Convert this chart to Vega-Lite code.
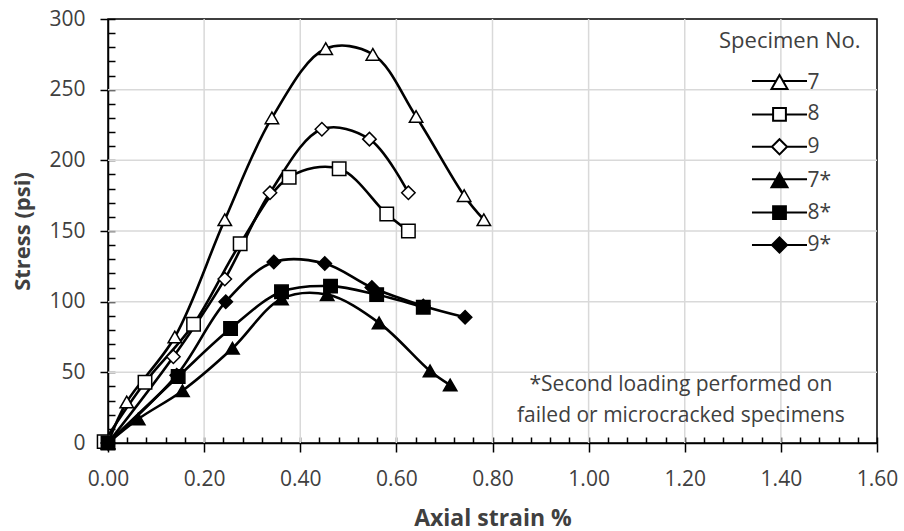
{
  "$schema": "https://vega.github.io/schema/vega-lite/v6.json",
  "width": 769,
  "height": 424,
  "autosize": {"type": "none"},
  "padding": {"left": 108, "top": 19, "right": 27, "bottom": 88},
  "background": "white",
  "config": {
    "font": "Open Sans",
    "view": {"stroke": "black", "strokeWidth": 1.5},
    "axis": {
      "labelFont": "Open Sans", "labelFontSize": 21, "labelColor": "#404040",
      "titleFont": "Open Sans", "titleFontSize": 22, "titleFontWeight": "bold", "titleColor": "#404040",
      "domainColor": "black", "domainWidth": 1.5, "tickColor": "black", "tickWidth": 1.5, "grid": false
    }
  },
  "data": {
    "values": [
      {"series": "7", "strain": 0, "stress": 0},
      {"series": "7", "strain": 0.039, "stress": 29},
      {"series": "7", "strain": 0.139, "stress": 75},
      {"series": "7", "strain": 0.243, "stress": 158},
      {"series": "7", "strain": 0.341, "stress": 230},
      {"series": "7", "strain": 0.453, "stress": 279},
      {"series": "7", "strain": 0.551, "stress": 275},
      {"series": "7", "strain": 0.641, "stress": 231},
      {"series": "7", "strain": 0.741, "stress": 175},
      {"series": "7", "strain": 0.782, "stress": 158},
      {"series": "8", "strain": -0.008, "stress": 1},
      {"series": "8", "strain": 0.077, "stress": 43},
      {"series": "8", "strain": 0.178, "stress": 84},
      {"series": "8", "strain": 0.275, "stress": 141},
      {"series": "8", "strain": 0.377, "stress": 188},
      {"series": "8", "strain": 0.481, "stress": 194},
      {"series": "8", "strain": 0.58, "stress": 162},
      {"series": "8", "strain": 0.625, "stress": 150},
      {"series": "9", "strain": 0, "stress": 0},
      {"series": "9", "strain": 0.136, "stress": 61},
      {"series": "9", "strain": 0.243, "stress": 116},
      {"series": "9", "strain": 0.337, "stress": 177},
      {"series": "9", "strain": 0.445, "stress": 222},
      {"series": "9", "strain": 0.544, "stress": 215},
      {"series": "9", "strain": 0.625, "stress": 177},
      {"series": "7*", "strain": 0, "stress": 0},
      {"series": "7*", "strain": 0.063, "stress": 17},
      {"series": "7*", "strain": 0.155, "stress": 37},
      {"series": "7*", "strain": 0.259, "stress": 67},
      {"series": "7*", "strain": 0.361, "stress": 102},
      {"series": "7*", "strain": 0.456, "stress": 105},
      {"series": "7*", "strain": 0.564, "stress": 85},
      {"series": "7*", "strain": 0.67, "stress": 51},
      {"series": "7*", "strain": 0.712, "stress": 41},
      {"series": "8*", "strain": 0, "stress": 0},
      {"series": "8*", "strain": 0.146, "stress": 47},
      {"series": "8*", "strain": 0.255, "stress": 81},
      {"series": "8*", "strain": 0.361, "stress": 107},
      {"series": "8*", "strain": 0.463, "stress": 111},
      {"series": "8*", "strain": 0.559, "stress": 105},
      {"series": "8*", "strain": 0.656, "stress": 96},
      {"series": "9*", "strain": 0, "stress": 0},
      {"series": "9*", "strain": 0.143, "stress": 48},
      {"series": "9*", "strain": 0.245, "stress": 100},
      {"series": "9*", "strain": 0.345, "stress": 128},
      {"series": "9*", "strain": 0.451, "stress": 127},
      {"series": "9*", "strain": 0.549, "stress": 110},
      {"series": "9*", "strain": 0.656, "stress": 97},
      {"series": "9*", "strain": 0.743, "stress": 89}
    ]
  },
  "layer": [
    {"data": {"values": [{}]}, "mark": {"type": "rule", "color": "#d9d9d9", "strokeWidth": 1.5}, "encoding": {"x": {"datum": 0.2, "type": "quantitative", "scale": {"domain": [0, 1.6], "nice": false, "zero": false}, "axis": null}}},
    {"data": {"values": [{}]}, "mark": {"type": "rule", "color": "#d9d9d9", "strokeWidth": 1.5}, "encoding": {"x": {"datum": 0.4, "type": "quantitative", "scale": {"domain": [0, 1.6], "nice": false, "zero": false}, "axis": null}}},
    {"data": {"values": [{}]}, "mark": {"type": "rule", "color": "#d9d9d9", "strokeWidth": 1.5}, "encoding": {"x": {"datum": 0.6, "type": "quantitative", "scale": {"domain": [0, 1.6], "nice": false, "zero": false}, "axis": null}}},
    {"data": {"values": [{}]}, "mark": {"type": "rule", "color": "#d9d9d9", "strokeWidth": 1.5}, "encoding": {"x": {"datum": 0.8, "type": "quantitative", "scale": {"domain": [0, 1.6], "nice": false, "zero": false}, "axis": null}}},
    {"data": {"values": [{}]}, "mark": {"type": "rule", "color": "#d9d9d9", "strokeWidth": 1.5}, "encoding": {"x": {"datum": 1.0, "type": "quantitative", "scale": {"domain": [0, 1.6], "nice": false, "zero": false}, "axis": null}}},
    {"data": {"values": [{}]}, "mark": {"type": "rule", "color": "#d9d9d9", "strokeWidth": 1.5}, "encoding": {"x": {"datum": 1.2, "type": "quantitative", "scale": {"domain": [0, 1.6], "nice": false, "zero": false}, "axis": null}}},
    {"data": {"values": [{}]}, "mark": {"type": "rule", "color": "#d9d9d9", "strokeWidth": 1.5}, "encoding": {"x": {"datum": 1.4, "type": "quantitative", "scale": {"domain": [0, 1.6], "nice": false, "zero": false}, "axis": null}}},
    {"data": {"values": [{}]}, "mark": {"type": "rule", "color": "#d9d9d9", "strokeWidth": 1.5}, "encoding": {"y": {"datum": 50, "type": "quantitative", "scale": {"domain": [0, 300], "nice": false}, "axis": null}}},
    {"data": {"values": [{}]}, "mark": {"type": "rule", "color": "#d9d9d9", "strokeWidth": 1.5}, "encoding": {"y": {"datum": 100, "type": "quantitative", "scale": {"domain": [0, 300], "nice": false}, "axis": null}}},
    {"data": {"values": [{}]}, "mark": {"type": "rule", "color": "#d9d9d9", "strokeWidth": 1.5}, "encoding": {"y": {"datum": 150, "type": "quantitative", "scale": {"domain": [0, 300], "nice": false}, "axis": null}}},
    {"data": {"values": [{}]}, "mark": {"type": "rule", "color": "#d9d9d9", "strokeWidth": 1.5}, "encoding": {"y": {"datum": 200, "type": "quantitative", "scale": {"domain": [0, 300], "nice": false}, "axis": null}}},
    {"data": {"values": [{}]}, "mark": {"type": "rule", "color": "#d9d9d9", "strokeWidth": 1.5}, "encoding": {"y": {"datum": 250, "type": "quantitative", "scale": {"domain": [0, 300], "nice": false}, "axis": null}}},
    {
      "data": {"values": [{"note": ["*Second loading performed on", "failed or microcracked specimens"]}]},
      "mark": {"type": "text", "font": "Open Sans", "fontSize": 21, "color": "#404040", "align": "center", "baseline": "middle", "lineHeight": 31},
      "encoding": {
        "x": {"datum": 1.192, "type": "quantitative", "scale": {"domain": [0, 1.6], "nice": false, "zero": false}, "axis": null},
        "y": {"datum": 41, "type": "quantitative", "scale": {"domain": [0, 300], "nice": false}, "axis": null},
        "text": {"field": "note"}
      }
    },
    {
      "mark": {"type": "line", "interpolate": "catmull-rom", "color": "black", "strokeWidth": 2.6},
      "encoding": {
        "x": {
          "field": "strain", "type": "quantitative",
          "scale": {"domain": [0, 1.6], "nice": false, "zero": false},
          "axis": {
            "orient": "bottom", "title": "Axial strain %", "titleFontSize": 23, "format": ".2f",
            "values": [0, 0.2, 0.4, 0.6, 0.8, 1.0, 1.2, 1.4, 1.6],
            "tickSize": 9, "labelPadding": 16, "titlePadding": 18, "grid": false,
            "labelFlush": false
          }
        },
        "y": {
          "field": "stress", "type": "quantitative",
          "scale": {"domain": [0, 300], "nice": false},
          "axis": {
            "orient": "left", "title": "Stress (psi)", "format": "d",
            "values": [0, 50, 100, 150, 200, 250, 300],
            "tickSize": 8, "labelPadding": 15, "titlePadding": 14, "grid": false
          }
        },
        "detail": {"field": "series", "type": "nominal"}
      }
    },
    {
      "mark": {"type": "point", "filled": true, "stroke": "black", "strokeWidth": 1.5, "size": 180, "opacity": 1},
      "encoding": {
        "x": {"field": "strain", "type": "quantitative", "scale": {"domain": [0, 1.6], "nice": false, "zero": false}, "axis": null},
        "y": {"field": "stress", "type": "quantitative", "scale": {"domain": [0, 300], "nice": false}, "axis": null},
        "shape": {
          "field": "series", "type": "nominal",
          "scale": {"domain": ["7", "8", "9", "7*", "8*", "9*"], "range": ["triangle-up", "square", "diamond", "triangle-up", "square", "diamond"]},
          "legend": null
        },
        "fill": {
          "field": "series", "type": "nominal",
          "scale": {"domain": ["7", "8", "9", "7*", "8*", "9*"], "range": ["white", "white", "white", "black", "black", "black"]},
          "legend": null
        }
      }
    },
    {
      "mark": {"type": "point", "filled": true, "strokeWidth": 2, "opacity": 0},
      "encoding": {
        "x": {
          "field": "strain", "type": "quantitative", "scale": {"domain": [0, 1.6], "nice": false, "zero": false},
          "axis": {
            "orient": "bottom", "title": null, "labels": false, "domain": false, "grid": false,
            "tickSize": -6,
            "values": [0, 0.04, 0.08, 0.12, 0.16, 0.2, 0.24, 0.28, 0.32, 0.36, 0.4, 0.44, 0.48, 0.52, 0.56, 0.6, 0.64, 0.68, 0.72, 0.76, 0.8, 0.84, 0.88, 0.92, 0.96, 1.0, 1.04, 1.08, 1.12, 1.16, 1.2, 1.24, 1.28, 1.32, 1.36, 1.4, 1.44, 1.48, 1.52, 1.56, 1.6]
          }
        },
        "y": {
          "field": "stress", "type": "quantitative", "scale": {"domain": [0, 300], "nice": false},
          "axis": {
            "orient": "left", "title": null, "labels": false, "domain": false, "grid": false,
            "tickSize": -7,
            "values": [0, 10, 20, 30, 40, 50, 60, 70, 80, 90, 100, 110, 120, 130, 140, 150, 160, 170, 180, 190, 200, 210, 220, 230, 240, 250, 260, 270, 280, 290, 300]
          }
        },
        "shape": {
          "field": "series", "type": "nominal",
          "scale": {
            "domain": ["7", "8", "9", "7*", "8*", "9*"],
            "range": [
              "M-3.44,-0.25H-0.43M0.43,-0.25H3.44M0,-1L1,0.75L-1,0.75Z",
              "M-3.44,0H-0.8M0.8,0H3.44M-0.8,-0.8H0.8V0.8H-0.8Z",
              "M-3.44,0H-0.95M0.95,0H3.44M0,-0.95L0.95,0L0,0.95L-0.95,0Z",
              "M-3.44,-0.25H-0.43M0.43,-0.25H3.44M0,-1L1,0.75L-1,0.75Z",
              "M-3.44,0H-0.8M0.8,0H3.44M-0.8,-0.8H0.8V0.8H-0.8Z",
              "M-3.44,0H-0.95M0.95,0H3.44M0,-0.95L0.95,0L0,0.95L-0.95,0Z"
            ]
          },
          "legend": {
            "orient": "none", "legendX": 611, "legendY": 11.5, "title": "Specimen No.",
            "titleFont": "Open Sans", "titleFontSize": 22, "titleFontWeight": "normal", "titleColor": "#404040",
            "titlePadding": 20, "labelFont": "Open Sans", "labelFontSize": 21, "labelColor": "#404040",
            "symbolSize": 256, "symbolOffset": 50, "labelOffset": 17.5, "rowPadding": 9.4, "padding": 0,
            "symbolStrokeWidth": 2, "symbolStrokeColor": "black", "symbolOpacity": 1
          }
        },
        "fill": {
          "field": "series", "type": "nominal",
          "scale": {"domain": ["7", "8", "9", "7*", "8*", "9*"], "range": ["white", "white", "white", "black", "black", "black"]},
          "legend": {
            "orient": "none", "legendX": 611, "legendY": 11.5, "title": "Specimen No.",
            "titleFont": "Open Sans", "titleFontSize": 22, "titleFontWeight": "normal", "titleColor": "#404040",
            "titlePadding": 20, "labelFont": "Open Sans", "labelFontSize": 21, "labelColor": "#404040",
            "symbolSize": 256, "symbolOffset": 50, "labelOffset": 17.5, "rowPadding": 9.4, "padding": 0,
            "symbolStrokeWidth": 2, "symbolStrokeColor": "black", "symbolOpacity": 1
          }
        },
        "stroke": {
          "field": "series", "type": "nominal",
          "scale": {"domain": ["7", "8", "9", "7*", "8*", "9*"], "range": ["black", "black", "black", "black", "black", "black"]},
          "legend": {
            "orient": "none", "legendX": 611, "legendY": 11.5, "title": "Specimen No.",
            "titleFont": "Open Sans", "titleFontSize": 22, "titleFontWeight": "normal", "titleColor": "#404040",
            "titlePadding": 20, "labelFont": "Open Sans", "labelFontSize": 21, "labelColor": "#404040",
            "symbolSize": 256, "symbolOffset": 50, "labelOffset": 17.5, "rowPadding": 9.4, "padding": 0,
            "symbolStrokeWidth": 2, "symbolStrokeColor": "black", "symbolOpacity": 1
          }
        }
      }
    }
  ],
  "resolve": {
    "scale": {"shape": "independent", "fill": "independent", "stroke": "independent"},
    "axis": {"x": "independent", "y": "independent"}
  }
}
